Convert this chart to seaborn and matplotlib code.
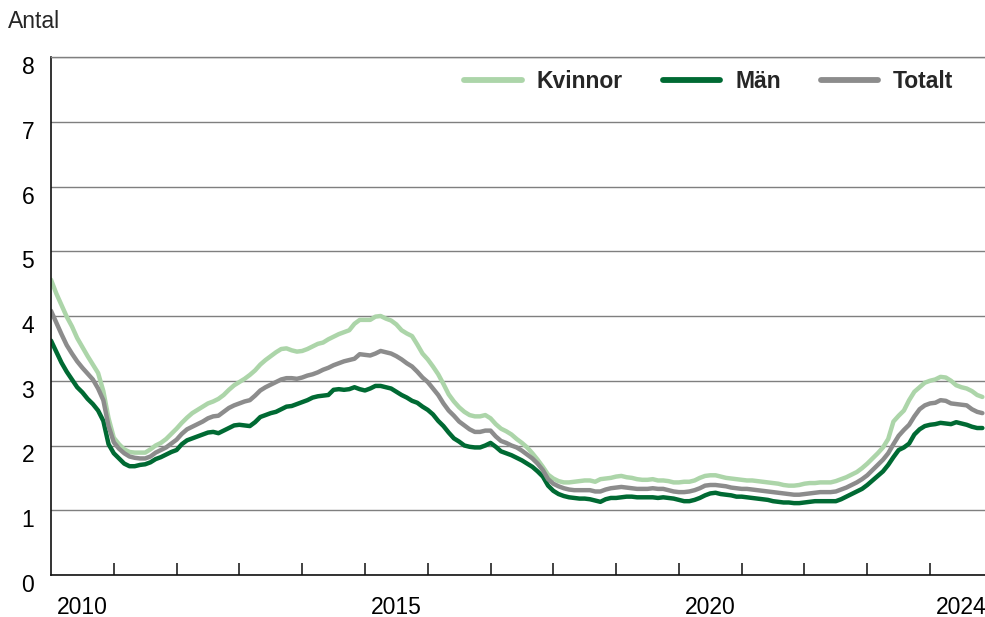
import numpy as np
import pandas as pd
import matplotlib
matplotlib.use("Agg")
import matplotlib.pyplot as plt
import matplotlib.transforms as mtransforms
import seaborn as sns

# Monthly data, Jan 2010 -> Nov 2024
start_year = 2010
kvinnor = [
    4.56, 4.35, 4.17, 3.99, 3.84, 3.66, 3.52, 3.38, 3.25, 3.12, 2.84, 2.42,
    2.12, 2.02, 1.94, 1.90, 1.89, 1.89, 1.89, 1.94, 2.00, 2.04, 2.10, 2.18,
    2.26, 2.35, 2.43, 2.50, 2.55, 2.60, 2.65, 2.68, 2.72, 2.78, 2.86, 2.93,
    2.98, 3.03, 3.09, 3.16, 3.25, 3.32, 3.38, 3.44, 3.49, 3.50, 3.47, 3.45,
    3.46, 3.49, 3.53, 3.57, 3.59, 3.64, 3.68, 3.72, 3.75, 3.78, 3.88, 3.94,
    3.94, 3.94, 3.99, 4.00, 3.96, 3.93, 3.87, 3.78, 3.73, 3.69, 3.56, 3.42,
    3.33, 3.22, 3.10, 2.95, 2.79, 2.68, 2.59, 2.52, 2.47, 2.45, 2.45, 2.47,
    2.42, 2.33, 2.26, 2.22, 2.17, 2.10, 2.04, 1.97, 1.88, 1.78, 1.67, 1.55,
    1.49, 1.45, 1.43, 1.43, 1.44, 1.45, 1.46, 1.46, 1.44, 1.48, 1.49, 1.50,
    1.52, 1.53, 1.51, 1.50, 1.48, 1.47, 1.47, 1.48, 1.46, 1.46, 1.45, 1.43,
    1.43, 1.44, 1.44, 1.46, 1.50, 1.53, 1.54, 1.54, 1.52, 1.50, 1.49, 1.48,
    1.47, 1.46, 1.46, 1.45, 1.44, 1.43, 1.42, 1.41, 1.39, 1.38, 1.38, 1.39,
    1.41, 1.42, 1.42, 1.43, 1.43, 1.43, 1.45, 1.48, 1.51, 1.55, 1.59, 1.65,
    1.72, 1.80, 1.88, 1.97, 2.10, 2.37, 2.46, 2.54, 2.70, 2.83, 2.90, 2.97,
    3.00, 3.02, 3.06, 3.05, 3.00, 2.93, 2.90, 2.88, 2.84, 2.78, 2.75,
]
man = [
    3.62, 3.45, 3.28, 3.14, 3.02, 2.90, 2.82, 2.72, 2.64, 2.54, 2.38, 2.02,
    1.88, 1.80, 1.72, 1.68, 1.68, 1.70, 1.71, 1.74, 1.79, 1.82, 1.86, 1.90,
    1.93, 2.02, 2.08, 2.11, 2.14, 2.17, 2.20, 2.21, 2.19, 2.23, 2.27, 2.31,
    2.32, 2.31, 2.30, 2.36, 2.44, 2.47, 2.50, 2.52, 2.56, 2.60, 2.61, 2.64,
    2.67, 2.70, 2.74, 2.76, 2.77, 2.78, 2.86, 2.87, 2.86, 2.87, 2.90, 2.87,
    2.85, 2.88, 2.92, 2.92, 2.90, 2.88, 2.83, 2.78, 2.74, 2.69, 2.66, 2.60,
    2.55, 2.48, 2.38, 2.30, 2.20, 2.11, 2.06, 2.00, 1.98, 1.97, 1.97, 2.00,
    2.04, 1.98, 1.91, 1.88, 1.85, 1.81, 1.77, 1.72, 1.67, 1.60, 1.52, 1.38,
    1.30, 1.25, 1.22, 1.20, 1.19, 1.18, 1.18, 1.17, 1.15, 1.13, 1.17, 1.19,
    1.19, 1.20, 1.21, 1.21, 1.20, 1.20, 1.20, 1.20, 1.19, 1.20, 1.19, 1.18,
    1.16, 1.14, 1.14, 1.16, 1.19, 1.23, 1.26, 1.27, 1.25, 1.24, 1.23, 1.21,
    1.21, 1.20, 1.19, 1.18, 1.17, 1.16, 1.14, 1.13, 1.12, 1.12, 1.11, 1.11,
    1.12, 1.13, 1.14, 1.14, 1.14, 1.14, 1.14, 1.17, 1.21, 1.25, 1.29, 1.33,
    1.39, 1.46, 1.53, 1.60, 1.70, 1.82, 1.93, 1.97, 2.03, 2.17, 2.25, 2.30,
    2.32, 2.33, 2.35, 2.34, 2.33, 2.36, 2.34, 2.32, 2.29, 2.27, 2.27,
]
totalt = [
    4.08, 3.90, 3.72, 3.55, 3.42, 3.30, 3.20, 3.11, 3.02, 2.88, 2.70, 2.30,
    2.05, 1.95, 1.88, 1.83, 1.81, 1.80, 1.80, 1.83, 1.89, 1.93, 1.97, 2.03,
    2.09, 2.18, 2.25, 2.29, 2.33, 2.37, 2.42, 2.45, 2.46, 2.52, 2.58, 2.62,
    2.65, 2.68, 2.70, 2.77, 2.85, 2.90, 2.94, 2.98, 3.02, 3.04, 3.04, 3.03,
    3.05, 3.08, 3.10, 3.13, 3.17, 3.20, 3.24, 3.27, 3.30, 3.32, 3.34, 3.41,
    3.40, 3.39, 3.42, 3.46, 3.44, 3.42, 3.38, 3.33, 3.27, 3.22, 3.14, 3.05,
    2.98, 2.88, 2.78, 2.65, 2.54, 2.46, 2.37, 2.31, 2.25, 2.21, 2.21, 2.23,
    2.23, 2.14, 2.07, 2.04, 2.00, 1.97, 1.92, 1.86, 1.80, 1.72, 1.62, 1.48,
    1.41, 1.37, 1.34, 1.32, 1.31, 1.31, 1.31, 1.31, 1.29, 1.29, 1.32, 1.34,
    1.35, 1.36, 1.35, 1.34, 1.33, 1.33, 1.33, 1.34, 1.33, 1.33, 1.31, 1.29,
    1.28, 1.28, 1.29, 1.31, 1.34, 1.38, 1.39, 1.39, 1.38, 1.37, 1.35, 1.34,
    1.33, 1.33, 1.32, 1.31, 1.30, 1.29, 1.28, 1.27, 1.26, 1.25, 1.24, 1.24,
    1.25, 1.26, 1.27, 1.28, 1.28, 1.28, 1.29, 1.32, 1.35, 1.39, 1.43, 1.48,
    1.54, 1.62, 1.70, 1.78, 1.88, 2.02, 2.15, 2.24, 2.32, 2.45, 2.56, 2.62,
    2.65, 2.66, 2.70, 2.69, 2.65, 2.64, 2.63, 2.62, 2.56, 2.52, 2.50,
]
series_names = ["Kvinnor", "Män", "Totalt"]
series_colors = ["#acd5a9", "#006a33", "#8c8c8c"]
year_labels = [2010, 2015, 2020, 2024]
y_ticks = [0, 1, 2, 3, 4, 5, 6, 7, 8]

n = len(kvinnor)
x = start_year + np.arange(n) / 12.0
df = pd.concat([
    pd.DataFrame({"x": x, "v": kvinnor, "s": "Kvinnor"}),
    pd.DataFrame({"x": x, "v": man, "s": "Män"}),
    pd.DataFrame({"x": x, "v": totalt, "s": "Totalt"}),
])

sns.set_theme(style="white")
plt.rcParams["font.family"] = ["Liberation Sans", "DejaVu Sans"]

fs = 16.5
fig = plt.figure(figsize=(9.85, 6.17), dpi=100)
ax = fig.add_axes([51 / 985, 1 - 575 / 617, 1 - 51 / 985, (575 - 57) / 617])

ax.yaxis.grid(True, color="#7f7f7f", linewidth=1.0)
ax.set_axisbelow(True)

sns.lineplot(data=df, x="x", y="v", hue="s", hue_order=series_names,
             palette=dict(zip(series_names, series_colors)),
             linewidth=3.2, ax=ax, legend=True)

ax.set_ylim(0, 8)
ax.set_yticks(y_ticks)
x_end = start_year + 178.5 / 12.0
ax.set_xlim(start_year, x_end)

ax.set_xticks(np.arange(2011, 2025))
ax.set_xticklabels([])
ax.set_xticks([y + 0.5 for y in year_labels], minor=True)
ax.set_xticklabels([str(y) for y in year_labels], minor=True)
ax.tick_params(axis="x", which="major", direction="in", length=9,
               width=1.2, color="#222222", bottom=True)
ax.tick_params(axis="x", which="minor", length=0, pad=15,
               labelsize=fs, labelcolor="black")
ax.tick_params(axis="y", length=0, pad=12, labelsize=fs, labelcolor="black")

# y labels sit slightly below their gridlines in the reference
offset = mtransforms.ScaledTranslation(0, -8 / 100, fig.dpi_scale_trans)
for lab in ax.get_yticklabels():
    lab.set_transform(lab.get_transform() + offset)

ax.spines["right"].set_visible(False)
ax.spines["top"].set_color("#7f7f7f")
ax.spines["top"].set_linewidth(1.0)
ax.spines["left"].set_color("#111111")
ax.spines["bottom"].set_color("#111111")
ax.spines["left"].set_linewidth(1.2)
ax.spines["bottom"].set_linewidth(1.2)

ax.set_xlabel("")
ax.set_ylabel("")

handles, labels = ax.get_legend_handles_labels()
leg = ax.legend(handles, labels, loc="center right",
                bbox_to_anchor=(974 / 985, 1 - 82 / 617),
                bbox_transform=fig.transFigure, ncol=3, frameon=False,
                prop={"weight": "bold", "size": 16.5},
                handlelength=2.5, handletextpad=0.65, columnspacing=1.75)
for line in leg.get_lines():
    line.set_linewidth(4.2)
    line.set_solid_capstyle("round")

fig.text(8 / 985, 1 - 21 / 617, "Antal", fontsize=fs, ha="left", va="center")

fig.savefig("out.png", dpi=100)
